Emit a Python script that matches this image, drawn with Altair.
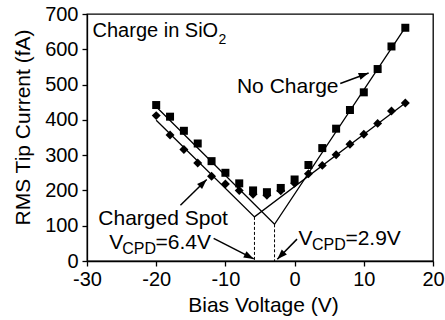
import math
import altair as alt
import pandas as pd

# ---- data ----
volts = [-20, -18, -16, -14, -12, -10, -8, -6, -4, -2, 0, 2, 4, 6, 8, 10, 12, 14, 16]
no_charge = [442, 409, 369, 333, 283, 250, 220, 200, 195, 207, 231, 272, 320, 375, 428, 478, 544, 608, 661]
charged = [412, 357, 316, 278, 240, 218, 200, 189, 186, 199, 220, 247, 271, 301, 331, 359, 390, 425, 448]

fit_nc_x = [-20, -2.9, 16]
fit_nc_y = [437, 104, 662]
fit_cs_x = [-20, -5.8, 16]
fit_cs_y = [399, 125, 448]

vcpd_x = [-5.8, -2.9]
vcpd_y = [125, 104]

x_ticks = [-30, -20, -10, 0, 10, 20]
y_ticks = [0, 100, 200, 300, 400, 500, 600, 700]

ann_text = ["Charge in SiO", "2", "No Charge", "Charged Spot",
            "V", "CPD", "=6.4V", "V", "CPD", "=2.9V"]
ann_x = [-29.2, -11.0, -8.33, -28.36, -26.8, -24.9, -20.1, 0.58, 2.52, 7.34]
ann_y = [634, 615, 475, 101, 35, 21, 35, 44.6, 30.4, 44.6]
ann_size = [20, 14, 21, 21, 21, 16, 21, 21, 16, 21]

arr_x1 = [6.6, -16.5, -11.7, 0.35]
arr_y1 = [503, 158, 64, 62]
arr_x2 = [10.7, -12.7, -5.9, -2.5]
arr_y2 = [533, 231, 6, 5]

# ---- layout ----
W, H = 346, 247
FONT = "Liberation Sans"
XD, YD = [-30, 20], [0, 700]
sx = W / (XD[1] - XD[0])
sy = H / (YD[1] - YD[0])

xs = alt.Scale(domain=XD, nice=False, zero=False)
ys = alt.Scale(domain=YD, nice=False, zero=False)

xaxis = alt.Axis(values=x_ticks, title="Bias Voltage (V)", grid=False,
                 labelExpr="'' + datum.value",
                 domainColor="black", domainWidth=1.3, tickColor="black", tickWidth=1.3, tickSize=5,
                 labelFont=FONT, labelFontSize=20, labelColor="black", labelPadding=3,
                 labelFlush=False, labelOverlap=False,
                 titleFont=FONT, titleFontSize=21, titleFontWeight="normal", titleColor="black",
                 titleX=176, titleY=50, titleAlign="center", titleBaseline="alphabetic")
yaxis = alt.Axis(values=y_ticks, title="RMS Tip Current (fA)", grid=False,
                 labelExpr="'' + datum.value",
                 domainColor="black", domainWidth=1.3, tickColor="black", tickWidth=1.3, tickSize=5,
                 labelFont=FONT, labelFontSize=20, labelColor="black", labelPadding=4,
                 labelFlush=False, labelOverlap=False,
                 titleFont=FONT, titleFontSize=21, titleFontWeight="normal", titleColor="black",
                 titleAngle=270, titleX=-58, titleY=113, titleAlign="center", titleBaseline="alphabetic")


def X(f):
    return alt.X(f, type="quantitative", scale=xs, axis=xaxis)


def Y(f):
    return alt.Y(f, type="quantitative", scale=ys, axis=yaxis)


df_nc = pd.DataFrame({"V": volts, "I": no_charge})
df_cs = pd.DataFrame({"V": volts, "I": charged})

fit = pd.DataFrame({"V": fit_nc_x + fit_cs_x, "I": fit_nc_y + fit_cs_y,
                    "s": ["nc"] * 3 + ["cs"] * 3})
lines = alt.Chart(fit).mark_line(color="black", strokeWidth=1.3).encode(
    x=X("V"), y=Y("I"), detail="s:N")

dots = alt.Chart(pd.DataFrame({"V": vcpd_x, "I": vcpd_y, "z": [0, 0]})).mark_rule(
    color="black", strokeWidth=1, strokeDash=[3, 2]).encode(
    x=X("V"), y=Y("I"), y2="z")

squares = alt.Chart(df_nc).mark_point(shape="square", filled=True, size=64,
                                      color="black", opacity=1).encode(x=X("V"), y=Y("I"))
diamonds = alt.Chart(df_cs).mark_point(shape="diamond", filled=True, size=80,
                                       color="black", opacity=1).encode(x=X("V"), y=Y("I"))

ann = pd.DataFrame({"t": ann_text, "V": ann_x, "I": ann_y, "fs": ann_size})
texts = alt.Chart(ann).mark_text(align="left", baseline="alphabetic", font=FONT,
                                 color="black").encode(
    x=X("V"), y=Y("I"), text="t:N", size=alt.Size("fs:Q", scale=None))

angles = [math.degrees(math.atan2((x2 - x1) * sx, (y2 - y1) * sy)) % 360
          for x1, y1, x2, y2 in zip(arr_x1, arr_y1, arr_x2, arr_y2)]
arr = pd.DataFrame({"x1": arr_x1, "y1": arr_y1, "x2": arr_x2, "y2": arr_y2, "a": angles})
shafts = alt.Chart(arr).mark_rule(color="black", strokeWidth=1.5).encode(
    x=X("x1"), y=Y("y1"), x2="x2", y2="y2")
heads = alt.Chart(arr).mark_point(shape="M0,0L-0.36,1L0.36,1Z", filled=True, size=400,
                                  color="black", opacity=1).encode(
    x=X("x2"), y=Y("y2"), angle=alt.Angle("a:Q", scale=None))

chart = alt.layer(lines, dots, squares, diamonds, shafts, heads, texts).properties(
    width=W, height=H,
    autosize=alt.AutoSizeParams(type="none"),
    padding={"left": 87, "top": 14, "right": 12, "bottom": 59},
    background="white",
).configure_view(stroke="black", strokeWidth=1.3)

chart.save("out.html", embed_options={"renderer": "svg", "actions": False})
